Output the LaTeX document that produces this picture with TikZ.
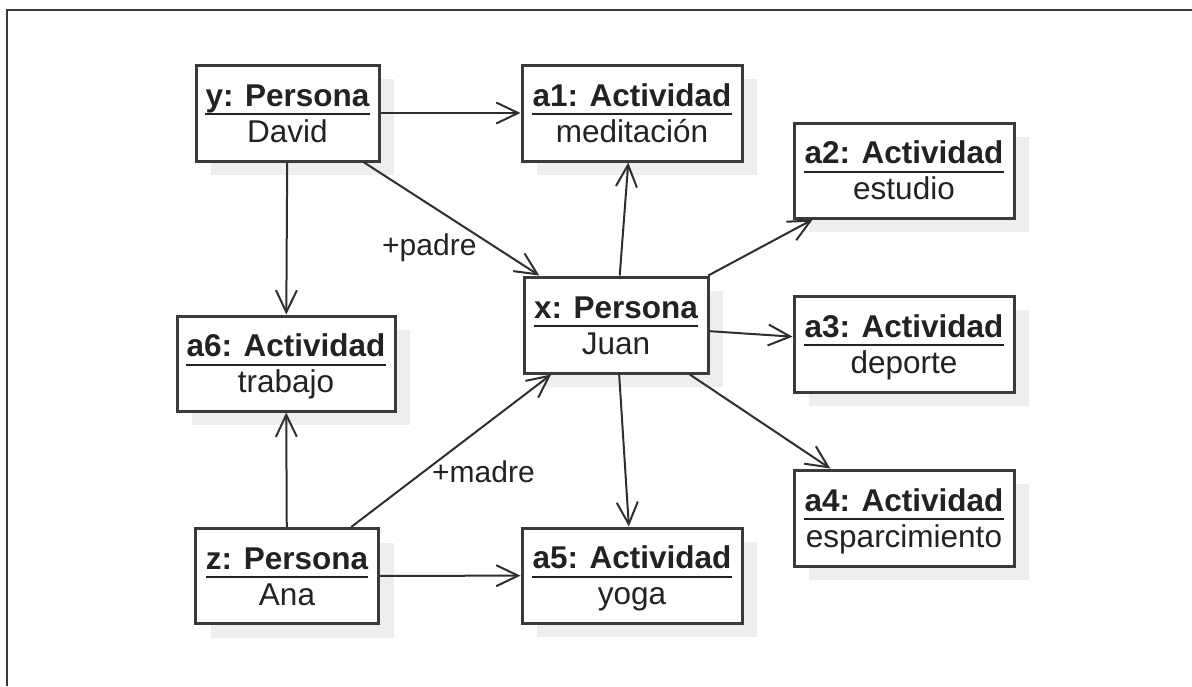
\documentclass[tikz,border=0pt]{standalone}
\usepackage{fontspec}
\setmainfont{Liberation Sans}
\usetikzlibrary{arrows.meta,calc}

\definecolor{edgecol}{HTML}{3A3A3A}
\definecolor{linecol}{HTML}{2E2E2E}
\definecolor{textcol}{HTML}{222222}
\definecolor{shadecol}{HTML}{EEEEEE}

\tikzset{
  objbox/.style={draw=edgecol, line width=3pt, fill=white, inner sep=0pt},
  shadowfill/.style={fill=shadecol},
  objtitle/.style={inner sep=0pt, text=textcol, font=\fontsize{31.5}{36}\selectfont\bfseries},
  objval/.style={inner sep=0pt, text=textcol, font=\fontsize{31.5}{36}\selectfont},
  underl/.style={draw=textcol, line width=2pt},
  conn/.style={draw=linecol, line width=2pt, -{Straight Barb[length=22pt,width=21pt,line width=2pt]}},
  rolelbl/.style={inner sep=0pt, text=textcol, font=\fontsize{30}{34}\selectfont},
  frameline/.style={draw=edgecol, line width=2pt}
}

% object box: name, centre x, centre y, width, height, title, value
\newcommand\umlobj[7]{%
  \fill[shadowfill] ({#2-#4/2+15},{#3-#5/2+14}) rectangle ++(#4,#5);
  \node[objbox, minimum width=#4pt, minimum height=#5pt] (#1) at (#2,#3) {};
  \node[objtitle, anchor=base] (#1-t) at (#2,{#3-7}) {#6};
  \draw[underl] ($(#1-t.base west)+(0,8)$) -- ($(#1-t.base east)+(0,8)$);
  \node[objval, anchor=base] (#1-v) at (#2,{#3+29}) {#7};
}

\begin{document}
\begin{tikzpicture}[x=1pt,y=-1pt]
  \useasboundingbox (0,0) rectangle (1192,686);
  \coordinate (fr-tl) at (7,9.5);
  \coordinate (fr-tr) at (1192,9.5);
  \coordinate (fr-bl) at (7,686);
  \draw[frameline] (fr-tr) -- (fr-tl) -- (fr-bl);

  \umlobj{y}{287.5}{113}{183}{96}{y: Persona}{David}
  \umlobj{a1}{632}{113}{220}{96}{a1: Actividad}{meditación}
  \umlobj{a2}{904}{170.5}{220}{95}{a2: Actividad}{estudio}
  \umlobj{x}{616}{325}{184}{96}{x: Persona}{Juan}
  \umlobj{a3}{904}{344}{220}{96}{a3: Actividad}{deporte}
  \umlobj{a6}{286}{363.5}{218}{95}{a6: Actividad}{trabajo}
  \umlobj{a4}{904}{518}{220}{96}{a4: Actividad}{esparcimiento}
  \umlobj{z}{287}{576}{183}{95}{z: Persona}{Ana}
  \umlobj{a5}{632}{575.5}{220}{95}{a5: Actividad}{yoga}

  \draw[conn] (y) -- (a1);
  \draw[conn] (y) -- (a6);
  \draw[conn] (y) -- (x);
  \draw[conn] (x) -- (a1);
  \draw[conn] (x) -- (a2);
  \draw[conn] (x) -- (a3);
  \draw[conn] (x) -- (a4);
  \draw[conn] (x) -- (a5);
  \draw[conn] (z) -- (x);
  \draw[conn] (z) -- (a6);
  \draw[conn] (z) -- (a5);

  \node[rolelbl, anchor=base west] (padre) at (382,255) {+padre};
  \node[rolelbl, anchor=base west] (madre) at (432,482) {+madre};
\end{tikzpicture}
\end{document}
